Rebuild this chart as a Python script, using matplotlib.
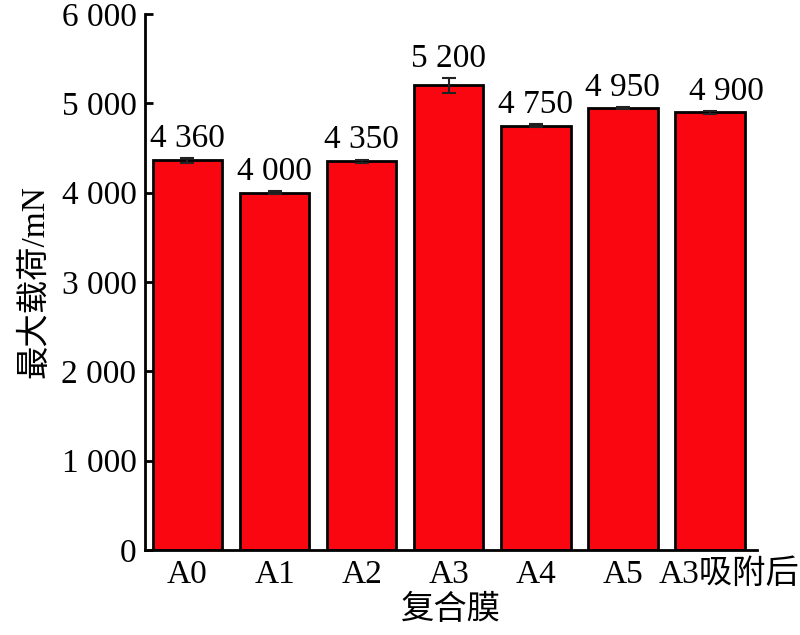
import numpy as np
import matplotlib.pyplot as plt
from matplotlib.transforms import ScaledTranslation

plt.rcParams['font.family'] = ['Liberation Serif', 'Noto Sans CJK SC']
plt.rcParams['axes.unicode_minus'] = False

# data
films = ['A0', 'A1', 'A2', 'A3', 'A4', 'A5', 'A3吸附后']
max_load = [4360, 4000, 4350, 5200, 4750, 4950, 4900]
load_err = [25, 15, 20, 80, 15, 10, 15]
value_labels = ['4 360', '4 000', '4 350', '5 200', '4 750', '4 950', '4 900']
yticks = [0, 1000, 2000, 3000, 4000, 5000, 6000]
ytick_labels = ['0', '1 000', '2 000', '3 000', '4 000', '5 000', '6 000']

fig = plt.figure(figsize=(8, 6.35), dpi=100)
ax = fig.add_axes([0.181, 0.134, 0.765, 0.844])

x = np.arange(len(films))
ax.bar(x, max_load, width=0.8, color='#FA0610', edgecolor='black', linewidth=2,
       yerr=load_err, capsize=5, error_kw=dict(ecolor='#222222', elinewidth=1.5, capthick=1.5))

for i in range(len(films)):
    # the last label sits a little to the right in the original
    dx = 12 if i == len(films) - 1 else 0
    ax.annotate(value_labels[i], (x[i], max_load[i] + load_err[i]),
                xytext=(dx, 3), textcoords='offset points',
                ha='center', va='bottom', fontsize=24)

ax.set_xlim(-0.49, 6.54)
ax.set_ylim(0, 6000)
ax.set_yticks(yticks)
ax.set_yticklabels(ytick_labels)
ax.set_xticks(x)
ax.set_xticklabels(films)

ax.spines['top'].set_visible(False)
ax.spines['right'].set_visible(False)
ax.spines['left'].set_linewidth(2)
ax.spines['bottom'].set_linewidth(2)
ax.tick_params(axis='y', direction='in', length=6, width=2, labelsize=24, pad=6)
ax.tick_params(axis='x', length=0, labelsize=24, pad=7)

# shift the long last tick label right so it does not run into A5
last = ax.get_xticklabels()[-1]
last.set_transform(last.get_transform() + ScaledTranslation(0.19, 0, fig.dpi_scale_trans))

ax.set_xlabel('复合膜', fontsize=24, labelpad=3)
ax.set_ylabel('最大载荷/mN', fontsize=24, labelpad=8)

fig.savefig('out.png', dpi=100)
